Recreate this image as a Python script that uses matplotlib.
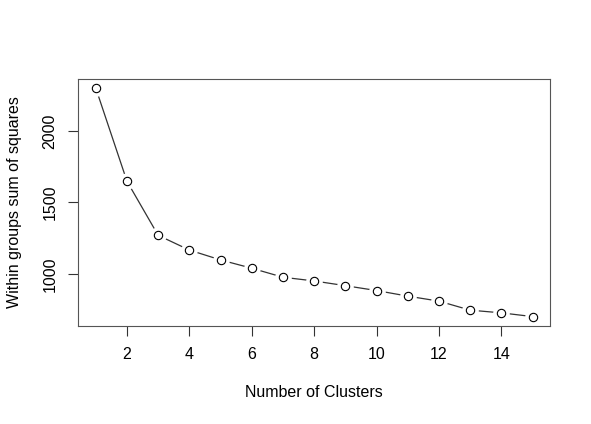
import numpy as np
import matplotlib.pyplot as plt

clusters = list(range(1, 16))
wss = [2299, 1648, 1270, 1167, 1098, 1040, 977, 951, 918, 884, 845, 810, 747, 728, 702]
x_ticks = [2, 4, 6, 8, 10, 12, 14]
y_ticks = [1000, 1500, 2000]


def main():
    plt.rcParams["font.family"] = ["Liberation Sans", "DejaVu Sans"]
    fig = plt.figure(figsize=(5.91, 4.24), dpi=100)
    ax = fig.add_axes([0.1325, 0.2318, 0.7981, 0.5819])

    # R's type="b": line with gaps around the points
    ax.plot(clusters, wss, color="#333333", lw=0.9, zorder=1)
    ax.plot(clusters, wss, ls="none", marker="o", ms=12, mfc="white", mec="none", zorder=2)
    ax.plot(clusters, wss, ls="none", marker="o", ms=6, mfc="white", mec="black", mew=0.8, zorder=3)

    pad_x = 0.04 * (max(clusters) - min(clusters))
    pad_y = 0.04 * (max(wss) - min(wss))
    ax.set_xlim(min(clusters) - pad_x, max(clusters) + pad_x)
    ax.set_ylim(min(wss) - pad_y, max(wss) + pad_y)

    ax.set_xticks(x_ticks)
    ax.set_yticks(y_ticks)
    ax.set_yticklabels([str(v) for v in y_ticks], rotation=90, va="center")
    ax.tick_params(direction="out", length=7, width=0.8, labelsize=11.5, pad=8, colors="#333333", labelcolor="black")
    for s in ax.spines.values():
        s.set_color("#555555")
        s.set_linewidth(0.8)

    ax.set_xlabel("Number of Clusters", fontsize=11.5, labelpad=17)
    ax.set_ylabel("Within groups sum of squares", fontsize=11.5, labelpad=15)

    fig.savefig("out.png", dpi=100, facecolor="white")


if __name__ == "__main__":
    main()
